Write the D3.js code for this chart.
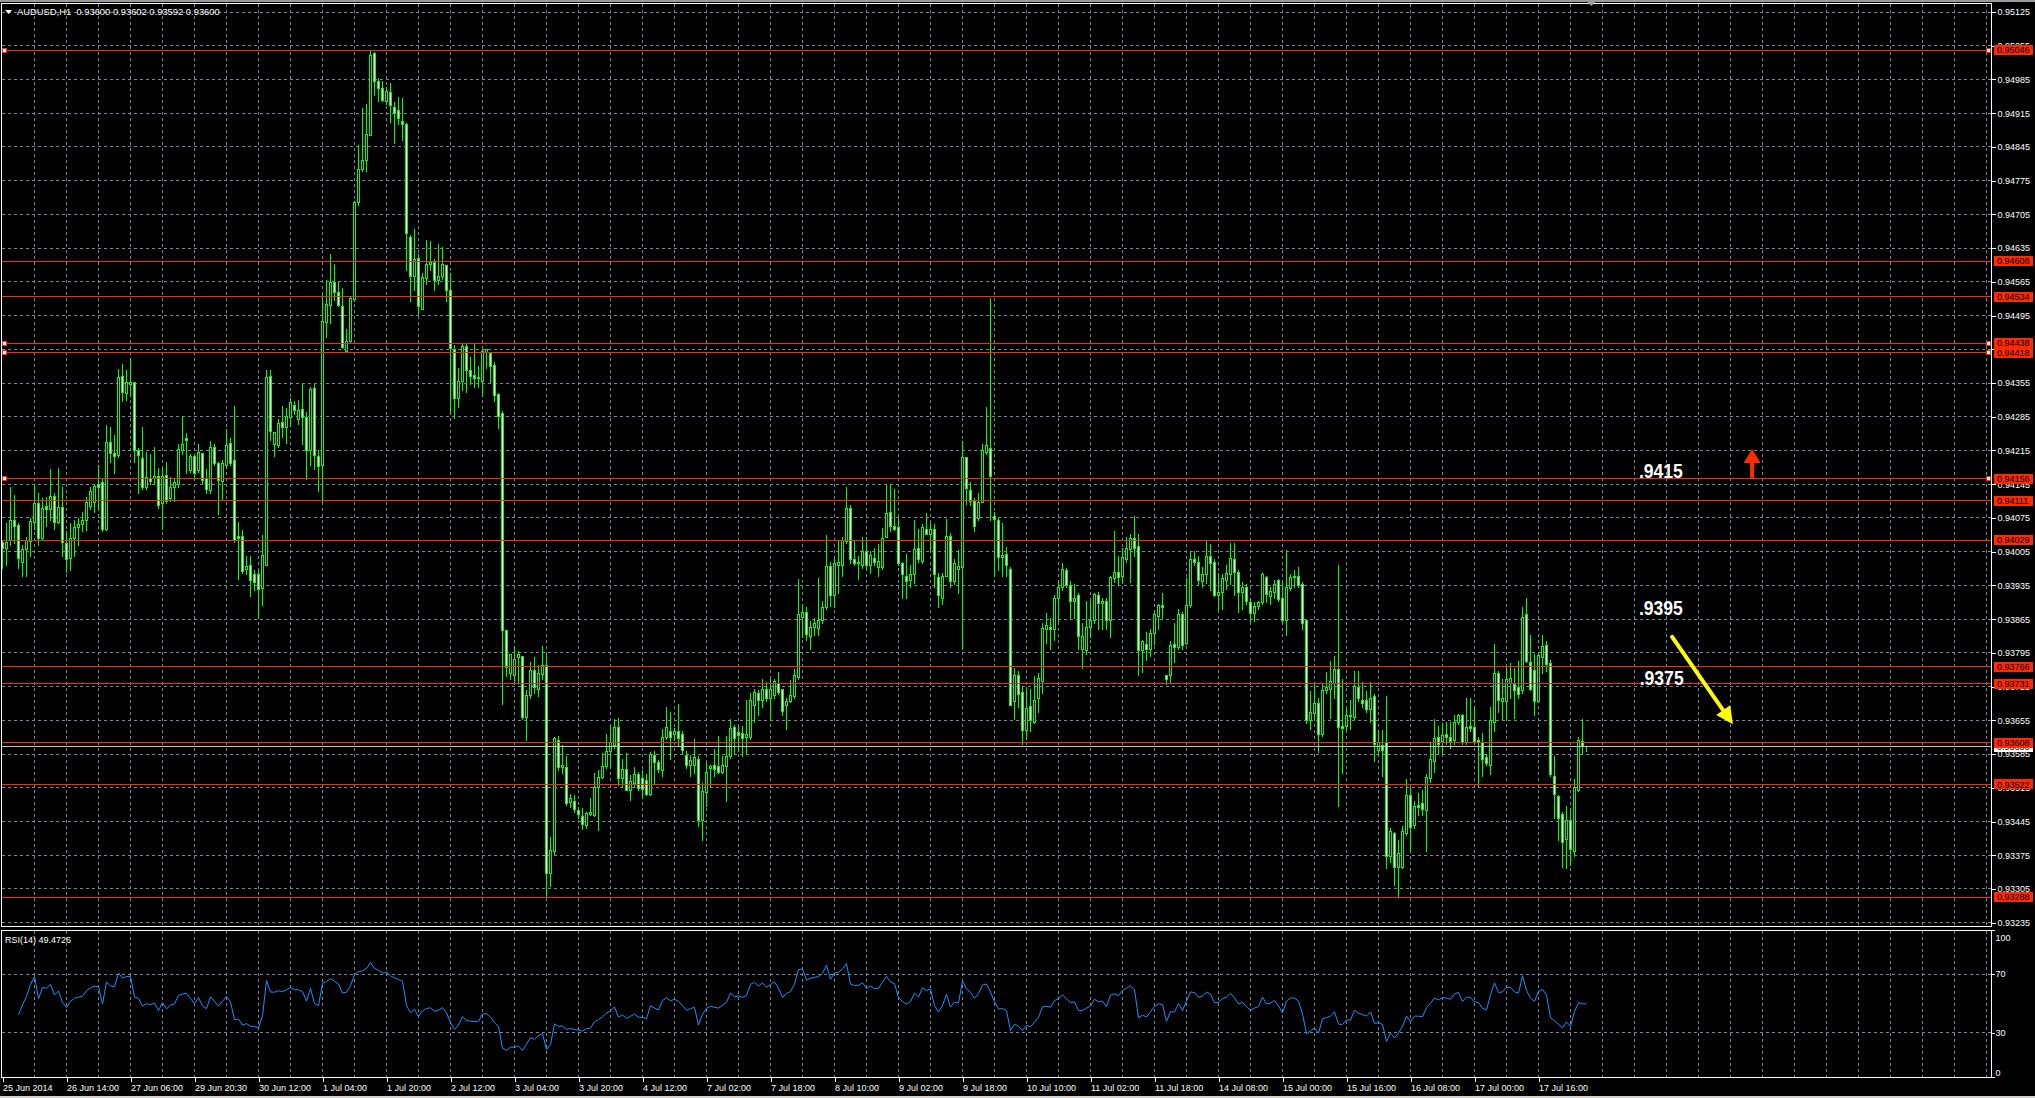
<!DOCTYPE html>
<html><head><meta charset="utf-8">
<script src="https://cdn.jsdelivr.net/npm/d3@7"></script>
<style>
html,body{margin:0;padding:0;background:#000;overflow:hidden;}
svg{display:block;font-family:"Liberation Sans",Arial,sans-serif;}
</style></head><body>
<svg id="chart" width="2035" height="1098"></svg>
<script>
// ---------------- DATA ----------------
const symbolText = "AUDUSD,H1  0.93600 0.93602 0.93592 0.93600";
const rsiText = "RSI(14) 49.4726";

const openP = [
0.94024,0.94012,0.94029,0.94070,0.94060,0.93983,0.94009,0.94027,0.94066,0.94104,
0.94032,0.94098,0.94093,0.94119,0.94066,0.94096,0.94021,0.93991,0.94032,0.94055,
0.94062,0.94069,0.94098,0.94107,0.94145,0.94148,0.94052,0.94231,0.94208,0.94204,
0.94369,0.94333,0.94352,0.94356,0.94214,0.94199,0.94139,0.94156,0.94156,0.94162,
0.94104,0.94164,0.94116,0.94139,0.94145,0.94214,0.94240,0.94173,0.94202,0.94173,
0.94209,0.94156,0.94131,0.94222,0.94188,0.94150,0.94183,0.94229,0.94194,0.94037,
0.94037,0.93969,0.93977,0.93957,0.93958,0.93928,0.93977,0.94369,0.94228,0.94226,
0.94274,0.94262,0.94283,0.94308,0.94280,0.94300,0.94283,0.94214,0.94343,0.94202,
0.94183,0.94481,0.94516,0.94563,0.94542,0.94514,0.94421,0.94441,0.94529,0.94729,
0.94798,0.94816,0.94869,0.95038,0.94981,0.94966,0.94940,0.94957,0.94926,0.94921,
0.94898,0.94891,0.94658,0.94577,0.94614,0.94508,0.94571,0.94600,0.94606,0.94568,
0.94577,0.94598,0.94548,0.94425,0.94323,0.94358,0.94431,0.94381,0.94371,0.94364,
0.94358,0.94419,0.94416,0.94392,0.94331,0.94291,0.93841,0.93753,0.93749,0.93785,
0.93787,0.93660,0.93706,0.93758,0.93718,0.93751,0.93768,0.93337,0.93382,0.93614,
0.93557,0.93557,0.93485,0.93487,0.93467,0.93455,0.93436,0.93459,0.93457,0.93516,
0.93537,0.93559,0.93591,0.93603,0.93641,0.93534,0.93553,0.93510,0.93524,0.93543,
0.93534,0.93530,0.93501,0.93583,0.93568,0.93551,0.93620,0.93632,0.93626,0.93632,
0.93626,0.93582,0.93562,0.93562,0.93574,0.93447,0.93505,0.93555,0.93562,0.93559,
0.93547,0.93559,0.93580,0.93640,0.93629,0.93628,0.93620,0.93620,0.93686,0.93710,
0.93697,0.93718,0.93701,0.93706,0.93732,0.93718,0.93686,0.93695,0.93704,0.93743,
0.93868,0.93879,0.93828,0.93847,0.93845,0.93862,0.93889,0.93974,0.93914,0.93977,
0.93977,0.94027,0.94095,0.93989,0.93981,0.93977,0.94006,0.93977,0.93991,0.93972,
0.93972,0.94035,0.94087,0.94057,0.94055,0.93980,0.93954,0.93946,0.93958,0.94012,
0.93985,0.94050,0.94041,0.94052,0.93951,0.93908,0.93954,0.94037,0.93943,0.93969,
0.93972,0.94200,0.94131,0.94110,0.94073,0.94108,0.94211,0.94220,0.94078,0.94070,
0.93992,0.94000,0.93968,0.93695,0.93749,0.93712,0.93634,0.93683,0.93651,0.93701,
0.93735,0.93843,0.93847,0.93843,0.93908,0.93931,0.93966,0.93935,0.93902,0.93914,
0.93801,0.93799,0.93847,0.93862,0.93914,0.93897,0.93902,0.93862,0.93949,0.93962,
0.93954,0.93989,0.94009,0.94032,0.94015,0.93799,0.93813,0.93801,0.93836,0.93871,
0.93894,0.93747,0.93747,0.93813,0.93807,0.93874,0.93814,0.93894,0.93989,0.93983,
0.93943,0.93958,0.93995,0.93983,0.93914,0.93920,0.93946,0.93958,0.93989,0.93962,
0.93920,0.93931,0.93900,0.93877,0.93891,0.93900,0.93951,0.93912,0.93920,0.93945,
0.93908,0.93862,0.93928,0.93953,0.93953,0.93937,0.93862,0.93655,0.93670,0.93689,
0.93626,0.93716,0.93720,0.93732,0.93761,0.93643,0.93643,0.93666,0.93660,0.93724,
0.93697,0.93697,0.93678,0.93704,0.93593,0.93603,0.93608,0.93372,0.93421,0.93349,
0.93349,0.93421,0.93499,0.93436,0.93478,0.93482,0.93467,0.93534,0.93570,0.93620,
0.93612,0.93626,0.93620,0.93614,0.93651,0.93666,0.93608,0.93643,0.93640,0.93614,
0.93608,0.93577,0.93562,0.93651,0.93753,0.93695,0.93695,0.93732,0.93730,0.93724,
0.93716,0.93874,0.93776,0.93758,0.93695,0.93785,0.93810,0.93773,0.93539,0.93497,
0.93459,0.93407,0.93447,0.93382,0.93510,0.93612,0.93600];

const highP = [
0.94029,0.94064,0.94139,0.94122,0.94064,0.94018,0.94035,0.94075,0.94145,0.94127,
0.94116,0.94119,0.94176,0.94127,0.94179,0.94139,0.94047,0.94064,0.94070,0.94075,
0.94087,0.94119,0.94139,0.94145,0.94185,0.94156,0.94268,0.94263,0.94248,0.94384,
0.94395,0.94381,0.94407,0.94358,0.94220,0.94263,0.94211,0.94208,0.94222,0.94179,
0.94179,0.94191,0.94159,0.94156,0.94228,0.94286,0.94251,0.94208,0.94208,0.94229,
0.94209,0.94176,0.94235,0.94229,0.94191,0.94196,0.94260,0.94240,0.94308,0.94067,
0.94049,0.93995,0.93997,0.93966,0.93966,0.94039,0.94383,0.94383,0.94254,0.94280,
0.94308,0.94303,0.94323,0.94318,0.94320,0.94356,0.94294,0.94346,0.94352,0.94217,
0.94537,0.94569,0.94623,0.94603,0.94565,0.94552,0.94467,0.94533,0.94733,0.94848,
0.94926,0.94934,0.95046,0.95042,0.94989,0.94981,0.94969,0.94977,0.94938,0.94948,
0.94946,0.94894,0.94663,0.94675,0.94623,0.94583,0.94652,0.94650,0.94612,0.94644,
0.94638,0.94600,0.94583,0.94433,0.94387,0.94435,0.94435,0.94410,0.94435,0.94390,
0.94424,0.94425,0.94419,0.94398,0.94335,0.94297,0.93841,0.93793,0.93810,0.93799,
0.93789,0.93718,0.93776,0.93787,0.93770,0.93810,0.93791,0.93412,0.93620,0.93622,
0.93603,0.93580,0.93502,0.93499,0.93476,0.93474,0.93464,0.93493,0.93545,0.93551,
0.93588,0.93626,0.93643,0.93658,0.93660,0.93574,0.93588,0.93542,0.93559,0.93547,
0.93551,0.93543,0.93589,0.93591,0.93572,0.93637,0.93683,0.93672,0.93640,0.93689,
0.93632,0.93591,0.93582,0.93617,0.93580,0.93524,0.93568,0.93562,0.93595,0.93622,
0.93580,0.93623,0.93658,0.93645,0.93643,0.93643,0.93697,0.93712,0.93720,0.93718,
0.93741,0.93735,0.93741,0.93741,0.93755,0.93720,0.93701,0.93739,0.93761,0.93949,
0.93897,0.93891,0.93862,0.93868,0.93951,0.93902,0.94039,0.93983,0.93989,0.94029,
0.94035,0.94139,0.94101,0.94029,0.93995,0.94035,0.94035,0.94006,0.94012,0.94021,
0.94055,0.94145,0.94145,0.94135,0.94075,0.93983,0.94000,0.93977,0.94070,0.94052,
0.94062,0.94085,0.94064,0.94062,0.93960,0.93960,0.94072,0.94043,0.93989,0.94009,
0.94235,0.94202,0.94150,0.94116,0.94127,0.94228,0.94306,0.94531,0.94087,0.94075,
0.94064,0.94015,0.93974,0.93764,0.93758,0.93724,0.93724,0.93720,0.93747,0.93753,
0.93856,0.93877,0.93868,0.93916,0.93943,0.93981,0.93972,0.93945,0.93937,0.93920,
0.93856,0.93902,0.93902,0.93920,0.93922,0.93908,0.93908,0.93954,0.94047,0.93997,
0.94012,0.94035,0.94041,0.94078,0.94041,0.93822,0.93839,0.93845,0.93879,0.93897,
0.93920,0.93747,0.93819,0.93856,0.93885,0.93879,0.93951,0.94006,0.94006,0.93997,
0.93974,0.94029,0.94021,0.93989,0.93960,0.93958,0.93977,0.94024,0.94022,0.93966,
0.93943,0.93937,0.93908,0.93900,0.93902,0.93960,0.93954,0.93931,0.93946,0.93949,
0.93943,0.94009,0.93958,0.93966,0.93974,0.93943,0.93864,0.93716,0.93735,0.93701,
0.93730,0.93756,0.93778,0.93789,0.93977,0.93741,0.93678,0.93697,0.93758,0.93758,
0.93735,0.93716,0.93735,0.93709,0.93635,0.93635,0.93706,0.93432,0.93424,0.93407,
0.93436,0.93534,0.93516,0.93487,0.93505,0.93510,0.93543,0.93608,0.93658,0.93643,
0.93649,0.93651,0.93651,0.93666,0.93669,0.93669,0.93701,0.93701,0.93683,0.93620,
0.93628,0.93585,0.93683,0.93813,0.93758,0.93741,0.93770,0.93773,0.93764,0.93778,
0.93891,0.93908,0.93833,0.93793,0.93793,0.93833,0.93819,0.93781,0.93580,0.93499,
0.93464,0.93478,0.93470,0.93534,0.93620,0.93658,0.93602];

const lowP = [
0.93972,0.93977,0.94018,0.94024,0.93972,0.93954,0.93954,0.93995,0.94052,0.94018,
0.94029,0.94058,0.94070,0.94052,0.94064,0.93995,0.93962,0.93966,0.93995,0.94018,
0.94047,0.94050,0.94093,0.94087,0.94093,0.94047,0.94050,0.94191,0.94168,0.94202,
0.94318,0.94320,0.94329,0.94191,0.94127,0.94136,0.94136,0.94145,0.94145,0.94096,
0.94052,0.94107,0.94110,0.94110,0.94139,0.94208,0.94168,0.94170,0.94156,0.94170,
0.94148,0.94127,0.94127,0.94185,0.94083,0.94112,0.94179,0.94184,0.94026,0.93949,
0.93960,0.93958,0.93914,0.93926,0.93868,0.93894,0.93977,0.94237,0.94204,0.94223,
0.94243,0.94231,0.94266,0.94291,0.94271,0.94228,0.94156,0.94185,0.94177,0.94130,
0.94108,0.94450,0.94479,0.94527,0.94514,0.94427,0.94421,0.94438,0.94526,0.94725,
0.94796,0.94796,0.94869,0.94952,0.94940,0.94940,0.94934,0.94896,0.94854,0.94892,
0.94859,0.94589,0.94526,0.94548,0.94499,0.94508,0.94560,0.94589,0.94548,0.94560,
0.94571,0.94526,0.94292,0.94283,0.94306,0.94341,0.94337,0.94352,0.94346,0.94346,
0.94329,0.94387,0.94358,0.94318,0.94262,0.93689,0.93747,0.93741,0.93730,0.93735,
0.93658,0.93614,0.93701,0.93712,0.93706,0.93741,0.93288,0.93312,0.93378,0.93551,
0.93545,0.93480,0.93476,0.93464,0.93453,0.93430,0.93432,0.93459,0.93456,0.93427,
0.93536,0.93557,0.93557,0.93597,0.93520,0.93516,0.93510,0.93490,0.93516,0.93510,
0.93493,0.93501,0.93499,0.93525,0.93547,0.93539,0.93617,0.93574,0.93614,0.93603,
0.93585,0.93557,0.93539,0.93545,0.93436,0.93407,0.93478,0.93516,0.93539,0.93545,
0.93545,0.93487,0.93577,0.93585,0.93591,0.93580,0.93585,0.93617,0.93651,0.93666,
0.93683,0.93695,0.93655,0.93701,0.93709,0.93666,0.93637,0.93693,0.93701,0.93741,
0.93828,0.93822,0.93804,0.93833,0.93833,0.93858,0.93885,0.93893,0.93891,0.93920,
0.93954,0.94024,0.93981,0.93977,0.93949,0.93972,0.93966,0.93960,0.93977,0.93954,
0.93969,0.94035,0.94047,0.94050,0.93977,0.93908,0.93908,0.93931,0.93939,0.93983,
0.93981,0.94041,0.94006,0.93931,0.93891,0.93897,0.93954,0.93931,0.93937,0.93920,
0.93804,0.94104,0.94101,0.94047,0.94070,0.94108,0.94208,0.94070,0.93954,0.93966,
0.93954,0.93954,0.93686,0.93658,0.93683,0.93605,0.93617,0.93632,0.93649,0.93672,
0.93712,0.93816,0.93804,0.93822,0.93862,0.93926,0.93931,0.93868,0.93868,0.93804,
0.93764,0.93793,0.93828,0.93858,0.93845,0.93845,0.93845,0.93828,0.93943,0.93935,
0.93939,0.93983,0.93943,0.93995,0.93750,0.93755,0.93781,0.93789,0.93813,0.93845,
0.93868,0.93730,0.93732,0.93776,0.93804,0.93804,0.93814,0.93891,0.93977,0.93937,
0.93931,0.93939,0.93926,0.93912,0.93885,0.93885,0.93928,0.93937,0.93916,0.93879,
0.93885,0.93897,0.93862,0.93862,0.93885,0.93897,0.93900,0.93897,0.93908,0.93902,
0.93856,0.93833,0.93926,0.93931,0.93931,0.93845,0.93649,0.93637,0.93658,0.93589,
0.93623,0.93712,0.93660,0.93701,0.93478,0.93545,0.93637,0.93637,0.93658,0.93695,
0.93683,0.93672,0.93651,0.93570,0.93585,0.93539,0.93349,0.93361,0.93314,0.93290,
0.93349,0.93418,0.93382,0.93432,0.93459,0.93459,0.93384,0.93528,0.93547,0.93585,
0.93585,0.93605,0.93597,0.93605,0.93647,0.93606,0.93605,0.93632,0.93609,0.93516,
0.93539,0.93562,0.93543,0.93632,0.93672,0.93655,0.93655,0.93701,0.93660,0.93701,
0.93712,0.93776,0.93718,0.93666,0.93693,0.93753,0.93758,0.93539,0.93453,0.93407,
0.93351,0.93349,0.93355,0.93374,0.93508,0.93585,0.93592];

const closeP = [
0.94012,0.94024,0.94070,0.94058,0.93991,0.94009,0.94029,0.94067,0.94104,0.94033,
0.94095,0.94093,0.94119,0.94066,0.94096,0.94024,0.93989,0.94032,0.94055,0.94062,
0.94069,0.94107,0.94130,0.94141,0.94139,0.94050,0.94231,0.94208,0.94202,0.94367,
0.94335,0.94356,0.94356,0.94214,0.94204,0.94139,0.94158,0.94150,0.94162,0.94101,
0.94162,0.94110,0.94139,0.94148,0.94218,0.94228,0.94235,0.94202,0.94168,0.94211,
0.94153,0.94133,0.94222,0.94188,0.94153,0.94188,0.94226,0.94188,0.94029,0.94032,
0.93964,0.93974,0.93945,0.93941,0.93926,0.93997,0.94367,0.94254,0.94252,0.94271,
0.94263,0.94286,0.94314,0.94297,0.94297,0.94283,0.94214,0.94341,0.94204,0.94181,
0.94482,0.94517,0.94563,0.94542,0.94516,0.94429,0.94441,0.94531,0.94729,0.94798,
0.94816,0.94871,0.95035,0.94981,0.94966,0.94942,0.94961,0.94931,0.94915,0.94903,
0.94891,0.94666,0.94577,0.94612,0.94514,0.94574,0.94600,0.94606,0.94568,0.94577,
0.94600,0.94548,0.94427,0.94323,0.94358,0.94431,0.94381,0.94369,0.94364,0.94367,
0.94421,0.94424,0.94389,0.94329,0.94285,0.93841,0.93764,0.93791,0.93781,0.93791,
0.93660,0.93706,0.93758,0.93724,0.93753,0.93768,0.93337,0.93384,0.93617,0.93557,
0.93562,0.93482,0.93493,0.93470,0.93459,0.93439,0.93461,0.93464,0.93516,0.93536,
0.93559,0.93591,0.93608,0.93641,0.93534,0.93553,0.93510,0.93528,0.93543,0.93514,
0.93512,0.93501,0.93585,0.93568,0.93553,0.93620,0.93640,0.93620,0.93632,0.93618,
0.93593,0.93562,0.93572,0.93577,0.93447,0.93507,0.93547,0.93559,0.93553,0.93547,
0.93562,0.93580,0.93637,0.93618,0.93623,0.93617,0.93626,0.93697,0.93712,0.93697,
0.93718,0.93701,0.93718,0.93735,0.93712,0.93674,0.93695,0.93706,0.93747,0.93874,
0.93879,0.93833,0.93848,0.93856,0.93862,0.93889,0.93974,0.93914,0.93980,0.93983,
0.94029,0.94095,0.93989,0.93981,0.93983,0.94006,0.93977,0.93997,0.93983,0.93985,
0.94032,0.94085,0.94058,0.94052,0.93981,0.93958,0.93943,0.93958,0.94009,0.93989,
0.94055,0.94041,0.94052,0.93958,0.93914,0.93954,0.94037,0.93943,0.93980,0.93974,
0.94200,0.94137,0.94110,0.94058,0.94107,0.94214,0.94226,0.94162,0.94072,0.93992,
0.93997,0.93977,0.93686,0.93747,0.93709,0.93634,0.93680,0.93655,0.93697,0.93741,
0.93845,0.93851,0.93843,0.93908,0.93931,0.93969,0.93935,0.93902,0.93908,0.93828,
0.93828,0.93847,0.93862,0.93916,0.93897,0.93902,0.93862,0.93951,0.93962,0.93951,
0.93992,0.94012,0.94032,0.94012,0.93799,0.93818,0.93801,0.93836,0.93874,0.93894,
0.93889,0.93739,0.93810,0.93807,0.93874,0.93810,0.93894,0.93989,0.93983,0.93946,
0.93958,0.93995,0.93981,0.93914,0.93920,0.93949,0.93960,0.93991,0.93962,0.93920,
0.93931,0.93902,0.93877,0.93891,0.93899,0.93957,0.93916,0.93922,0.93937,0.93906,
0.93862,0.93931,0.93951,0.93951,0.93935,0.93856,0.93655,0.93672,0.93689,0.93626,
0.93716,0.93724,0.93735,0.93761,0.93641,0.93637,0.93666,0.93663,0.93726,0.93701,
0.93689,0.93678,0.93701,0.93605,0.93608,0.93593,0.93372,0.93424,0.93349,0.93378,
0.93424,0.93499,0.93432,0.93476,0.93474,0.93470,0.93536,0.93574,0.93617,0.93605,
0.93623,0.93620,0.93612,0.93651,0.93664,0.93608,0.93640,0.93637,0.93612,0.93608,
0.93574,0.93565,0.93655,0.93753,0.93697,0.93701,0.93739,0.93741,0.93716,0.93709,
0.93868,0.93778,0.93720,0.93695,0.93789,0.93808,0.93770,0.93543,0.93501,0.93451,
0.93401,0.93447,0.93386,0.93516,0.93614,0.93600,0.93600];

const timeLabels = ["25 Jun 2014","26 Jun 14:00","27 Jun 06:00","29 Jun 20:30","30 Jun 12:00",
  "1 Jul 04:00","1 Jul 20:00","2 Jul 12:00","3 Jul 04:00","3 Jul 20:00","4 Jul 12:00",
  "7 Jul 02:00","7 Jul 18:00","8 Jul 10:00","9 Jul 02:00","9 Jul 18:00","10 Jul 10:00",
  "11 Jul 02:00","11 Jul 18:00","14 Jul 08:00","15 Jul 00:00","15 Jul 16:00","16 Jul 08:00",
  "17 Jul 00:00","17 Jul 16:00"];
const timeLabelBars = [0,16,32,48,64,80,96,112,128,144,160,176,192,208,224,240,256,272,288,304,320,336,352,368,384];

const priceTicks = [0.95125,0.95055,0.94985,0.94915,0.94845,0.94775,0.94705,0.94635,0.94565,0.94495,
  0.94425,0.94355,0.94285,0.94215,0.94145,0.94075,0.94005,0.93935,0.93865,0.93795,
  0.93725,0.93655,0.93585,0.93515,0.93445,0.93375,0.93305,0.93235];
const priceTickLabels = ["0.95125","0.95055","0.94985","0.94915","0.94845","0.94775","0.94705","0.94635","0.94565","0.94495",
  "0.94425","0.94355","0.94285","0.94215","0.94145","0.94075","0.94005","0.93935","0.93865","0.93795",
  "0.93725","0.93655","0.93585","0.93515","0.93445","0.93375","0.93305","0.93235"];

const levelPrices = [0.95046,0.94608,0.94534,0.94438,0.94418,0.94156,0.94111,0.94029,0.93766,0.93731,0.93608,0.93522,0.93288];
const levelLabels = ["0.95046","0.94608","0.94534","0.94438","0.94418","0.94156","0.94111","0.94029","0.93766","0.93731","0.93608","0.93522","0.93288"];
const selectedLevels = [0.95046,0.94438,0.94418,0.94156];
const bidPrice = 0.93600;
const bidLabel = "0.93600";

const rsiTicks = [100,70,30,0];
const rsiLevels = [70,30];

const noteTexts = [".9415", ".9395", ".9375"];
const noteAnchors = [[409.1,0.94158],[409.1,0.93874],[409.3,0.93728]];   // [bar, price]
const upArrow = {bar:437.4, from:0.94160, to:0.94218};
const downArrow = {from:[417.4,0.93828], to:[432.6,0.93647]};

// ---------------- LAYOUT ----------------
const W = 2035, H = 1098;
const frameL = 1.5, frameR = 1991.5;
const mainT = 3.5, mainB = 926.5, rsiT = 930.5, rsiB = 1077.5;
const GRID = "#778899", RED = "#ff2a00", LIME = "#00ff00";
const FONT = "'Liberation Sans', Arial, sans-serif";

const svg = d3.select("#chart");
svg.append("rect").attr("width", W).attr("height", H).attr("fill", "#000");
svg.append("rect").attr("width", W).attr("height", 2).attr("fill", "#9a9a9a");
svg.append("rect").attr("y", 1096).attr("width", W).attr("height", 2).attr("fill", "#d4d0c8");

const n = closeP.length;
const x = d3.scaleLinear().domain([0, 1]).range([2.5, 6.5]);
const y = d3.scaleLinear().domain([0.93235, 0.95125]).range([922.7, 12]);
const yR = d3.scaleLinear().domain([0, 100]).range([1077, 930]);
const px = v => Math.round(v - 0.5) + 0.5;

const defs = svg.append("defs");
defs.append("clipPath").attr("id", "clipMain").append("rect")
  .attr("x", frameL).attr("y", mainT).attr("width", frameR - frameL).attr("height", mainB - mainT);
defs.append("clipPath").attr("id", "clipRsi").append("rect")
  .attr("x", frameL).attr("y", rsiT).attr("width", frameR - frameL).attr("height", rsiB - rsiT);

// ---------------- GRID ----------------
const gGrid = svg.append("g").attr("stroke", GRID).attr("stroke-dasharray", "3,3")
  .attr("shape-rendering", "crispEdges");
const vBars = d3.range(8, 520, 8).filter(b => x(b) < frameR - 2);
gGrid.selectAll("line.vm").data(vBars).join("line").attr("class", "vm")
  .attr("x1", b => x(b)).attr("x2", b => x(b)).attr("y1", mainT).attr("y2", mainB);
gGrid.selectAll("line.vr").data(vBars).join("line").attr("class", "vr")
  .attr("x1", b => x(b)).attr("x2", b => x(b)).attr("y1", rsiT).attr("y2", rsiB);
gGrid.selectAll("line.hm").data(priceTicks).join("line").attr("class", "hm")
  .attr("x1", frameL).attr("x2", frameR).attr("y1", p => px(y(p))).attr("y2", p => px(y(p)));
gGrid.selectAll("line.hr").data(rsiLevels).join("line").attr("class", "hr")
  .attr("x1", frameL).attr("x2", frameR).attr("y1", v => px(yR(v))).attr("y2", v => px(yR(v)));

// ---------------- CANDLES ----------------
const idx = d3.range(n);
const gC = svg.append("g").attr("clip-path", "url(#clipMain)").attr("shape-rendering", "crispEdges");
gC.selectAll("line.wick").data(idx).join("line").attr("class", "wick")
  .attr("x1", i => x(i)).attr("x2", i => x(i))
  .attr("y1", i => Math.round(y(highP[i]))).attr("y2", i => Math.round(y(lowP[i])) + 1)
  .attr("stroke", LIME).attr("stroke-width", 1);
gC.selectAll("path.body").data(idx).join("path").attr("class", "body")
  .attr("d", i => {
    const t = px(y(Math.max(openP[i], closeP[i])));
    const b = px(y(Math.min(openP[i], closeP[i])));
    const x0 = x(i) - 1, x1 = x(i) + 1;
    return `M${x0},${t}H${x1}V${b}H${x0}Z`;
  })
  .attr("fill", i => closeP[i] < openP[i] ? "#ffffff" : "#000000")
  .attr("stroke", LIME).attr("stroke-width", 1);

// ---------------- HORIZONTAL LEVELS ----------------
const gL = svg.append("g").attr("shape-rendering", "crispEdges");
gL.append("line").attr("x1", frameL).attr("x2", frameR)
  .attr("y1", px(y(bidPrice))).attr("y2", px(y(bidPrice))).attr("stroke", "#c0c0c0");
gL.selectAll("line.lv").data(levelPrices).join("line").attr("class", "lv")
  .attr("x1", frameL).attr("x2", frameR)
  .attr("y1", p => px(y(p))).attr("y2", p => px(y(p))).attr("stroke", RED);
// selection handles
const handles = [];
selectedLevels.forEach(p => { handles.push([4, p]); handles.push([1988.5, p]); });
gL.selectAll("rect.hd").data(handles).join("rect").attr("class", "hd")
  .attr("x", d => d[0] - 2).attr("y", d => px(y(d[1])) - 2).attr("width", 4).attr("height", 4)
  .attr("fill", "#fff").attr("stroke", RED);

// ---------------- RSI ----------------
function computeRSI(c, p) {
  const out = [null]; let ag = 0, al = 0;
  for (let i = 1; i < c.length; i++) {
    const ch = c[i] - c[i - 1], g = ch > 0 ? ch : 0, l = ch < 0 ? -ch : 0;
    if (i <= p) { ag = (ag * (i - 1) + g) / i; al = (al * (i - 1) + l) / i; }
    else { ag = (ag * (p - 1) + g) / p; al = (al * (p - 1) + l) / p; }
    out.push(i < 4 ? null : (al === 0 ? 100 : 100 - 100 / (1 + ag / al)));
  }
  return out;
}
const rsi = computeRSI(closeP, 14);
svg.append("g").attr("clip-path", "url(#clipRsi)").append("path")
  .datum(rsi)
  .attr("d", d3.line().defined(d => d != null).x((d, i) => x(i)).y(d => yR(d)))
  .attr("fill", "none").attr("stroke", "#1e90ff").attr("stroke-width", 1);

// ---------------- FRAMES ----------------
const gF = svg.append("g").attr("fill", "none").attr("stroke", "#fff").attr("shape-rendering", "crispEdges");
gF.append("rect").attr("x", frameL).attr("y", mainT).attr("width", frameR - frameL).attr("height", mainB - mainT);
gF.append("rect").attr("x", frameL).attr("y", rsiT).attr("width", frameR - frameL).attr("height", rsiB - rsiT);

// ---------------- AXES ----------------
function styleAxis(g) {
  g.attr("font-family", FONT).attr("font-size", 9);
  g.select(".domain").remove();
  g.selectAll("line").attr("stroke", "#fff").attr("shape-rendering", "crispEdges");
  g.selectAll("text").attr("fill", "#fff");
}
const axPrice = d3.axisRight(y).tickValues(priceTicks).tickSize(4).tickPadding(2)
  .tickFormat((d, i) => priceTickLabels[i]);
svg.append("g").attr("transform", `translate(${frameR},0)`).call(axPrice).call(styleAxis);

const axRsi = d3.axisRight(yR).tickValues(rsiTicks).tickSize(3).tickPadding(1)
  .tickFormat(d => String(d));
const gRsiAx = svg.append("g").attr("transform", `translate(${frameR},0)`).call(axRsi).call(styleAxis);
gRsiAx.selectAll("text").attr("dy", d => d === 100 ? "1.13em" : d === 0 ? "-0.2em" : "0.32em");

const axTime = d3.axisBottom(x).tickValues(timeLabelBars).tickSize(4).tickPadding(3)
  .tickFormat((d, i) => timeLabels[i]);
const gT = svg.append("g").attr("transform", `translate(0,${rsiB})`).call(axTime).call(styleAxis);
gT.selectAll("text").attr("text-anchor", "start").attr("x", 0);

// price level label boxes
const gLab = svg.append("g").attr("font-family", FONT).attr("font-size", 9);
gLab.append("rect").attr("x", 1994).attr("y", Math.round(y(bidPrice)) - 5).attr("width", 39).attr("height", 10).attr("fill", "#fff");
gLab.append("text").attr("x", 1997).attr("y", y(bidPrice)).attr("dy", "0.35em").attr("fill", "#000").text(bidLabel);
const lab = gLab.selectAll("g.lb").data(levelPrices).join("g").attr("class", "lb");
lab.append("rect").attr("x", 1994).attr("y", p => Math.round(y(p)) - 5).attr("width", 39).attr("height", 10).attr("fill", RED);
lab.append("text").attr("x", 1997).attr("y", p => y(p)).attr("dy", "0.35em").attr("fill", "#000")
  .text((p, i) => levelLabels[i]);

// ---------------- HEADER TEXTS ----------------
svg.append("path").attr("d", "M5,10H12L8.5,14Z").attr("fill", "#fff");
svg.append("text").attr("x", 17).attr("y", 15).attr("font-family", FONT).attr("font-size", 9.4)
  .attr("fill", "#fff").attr("xml:space", "preserve").style("white-space", "pre").text(symbolText);
svg.append("text").attr("x", 5).attr("y", 942.5).attr("font-family", FONT).attr("font-size", 9)
  .attr("fill", "#fff").text(rsiText);
// chart shift marker
const shiftX = x(397.2);
svg.append("path").attr("d", `M${shiftX - 4},2H${shiftX + 4}L${shiftX},6Z`).attr("fill", "#a0a0a0");

// ---------------- ANNOTATIONS ----------------
const gN = svg.append("g");
gN.selectAll("text").data(noteTexts).join("text")
  .attr("x", (t, i) => x(noteAnchors[i][0])).attr("y", (t, i) => y(noteAnchors[i][1]))
  .attr("font-family", FONT).attr("font-size", 20).attr("font-weight", "bold")
  .attr("textLength", 44).attr("lengthAdjust", "spacingAndGlyphs")
  .attr("fill", "#fff").text(t => t);

function arrow(g, x0, y0, x1, y1, color, w, hl, hw) {
  const dx = x1 - x0, dy = y1 - y0, len = Math.hypot(dx, dy), ux = dx / len, uy = dy / len;
  const bx = x1 - ux * hl, by = y1 - uy * hl;
  g.append("line").attr("x1", x0).attr("y1", y0).attr("x2", bx + ux).attr("y2", by + uy)
    .attr("stroke", color).attr("stroke-width", w).attr("stroke-linecap", "round");
  g.append("path").attr("d", `M${x1},${y1}L${bx - uy * hw},${by + ux * hw}L${bx + uy * hw},${by - ux * hw}Z`)
    .attr("fill", color);
}
arrow(gN, x(upArrow.bar), y(upArrow.from), x(upArrow.bar), y(upArrow.to), RED, 4, 14, 8.5);
arrow(gN, x(downArrow.from[0]), y(downArrow.from[1]), x(downArrow.to[0]), y(downArrow.to[1]), "#ffff00", 4, 17, 8.5);
</script>
</body></html>
